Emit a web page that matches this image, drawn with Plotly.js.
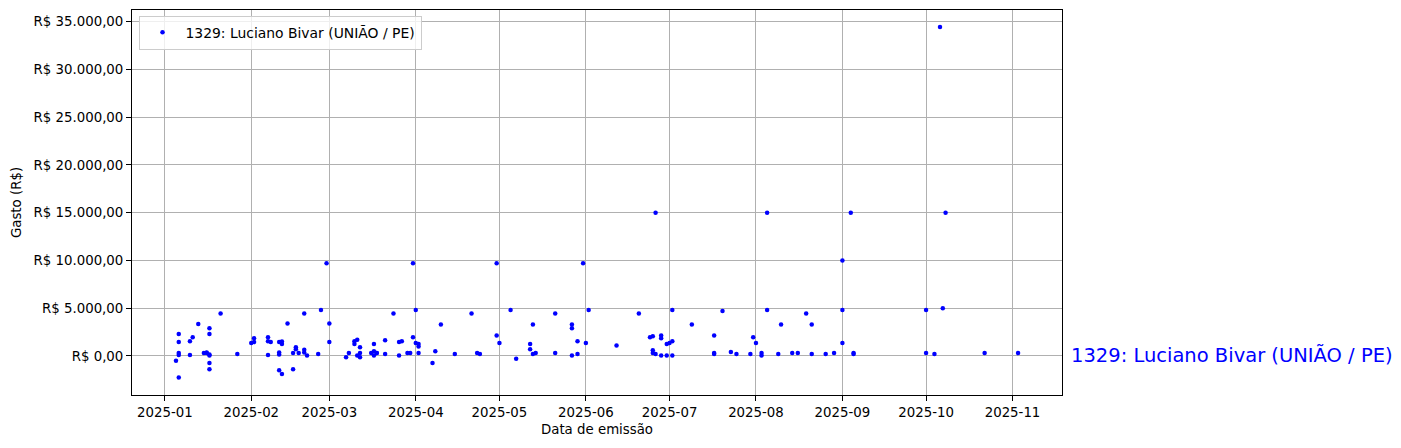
<!DOCTYPE html>
<html>
<head>
<meta charset="utf-8">
<script src="https://cdn.plot.ly/plotly-3.0.1.min.js"></script>
<style>html,body{margin:0;padding:0;background:#fff;}#chart{width:1401px;height:448px;}</style>
</head>
<body>
<div id="chart"></div>
<script>
const seriesName = '1329: Luciano Bivar (UNIÃO / PE)';

const emissionDates = [
  '2025-01-05',
  '2025-01-06','2025-01-06','2025-01-06','2025-01-06','2025-01-06',
  '2025-01-10','2025-01-10','2025-01-11','2025-01-13','2025-01-15',
  '2025-01-16','2025-01-16',
  '2025-01-17','2025-01-17','2025-01-17','2025-01-17','2025-01-17','2025-01-17',
  '2025-01-21','2025-01-27',
  '2025-02-01','2025-02-02','2025-02-02',
  '2025-02-07','2025-02-07','2025-02-07','2025-02-08',
  '2025-02-11','2025-02-11','2025-02-11','2025-02-11',
  '2025-02-12','2025-02-12','2025-02-12',
  '2025-02-14','2025-02-16','2025-02-16','2025-02-17','2025-02-17','2025-02-18',
  '2025-02-20','2025-02-20','2025-02-20','2025-02-21','2025-02-25','2025-02-26','2025-02-28',
  '2025-03-01','2025-03-01','2025-03-07','2025-03-08',
  '2025-03-10','2025-03-10','2025-03-11','2025-03-11',
  '2025-03-12','2025-03-12','2025-03-12','2025-03-16',
  '2025-03-17','2025-03-17','2025-03-17','2025-03-18','2025-03-18',
  '2025-03-21','2025-03-21','2025-03-24','2025-03-26','2025-03-26','2025-03-27',
  '2025-03-29','2025-03-30','2025-03-31','2025-03-31',
  '2025-04-01','2025-04-01','2025-04-02','2025-04-02','2025-04-02',
  '2025-04-07','2025-04-08','2025-04-10','2025-04-15','2025-04-21','2025-04-23','2025-04-24',
  '2025-04-30','2025-04-30',
  '2025-05-01','2025-05-05','2025-05-07','2025-05-12','2025-05-12','2025-05-13','2025-05-13',
  '2025-05-14','2025-05-21','2025-05-21','2025-05-27','2025-05-27','2025-05-27',
  '2025-05-29','2025-05-29','2025-05-31',
  '2025-06-01','2025-06-02','2025-06-12','2025-06-20','2025-06-24',
  '2025-06-25','2025-06-25','2025-06-25','2025-06-26','2025-06-26',
  '2025-06-28','2025-06-28','2025-06-28','2025-06-30','2025-06-30',
  '2025-07-01','2025-07-02','2025-07-02','2025-07-02','2025-07-09',
  '2025-07-17','2025-07-17','2025-07-17','2025-07-20','2025-07-23','2025-07-25',
  '2025-07-30','2025-07-31',
  '2025-08-01','2025-08-03','2025-08-03','2025-08-05','2025-08-05','2025-08-09','2025-08-10',
  '2025-08-14','2025-08-16','2025-08-19','2025-08-21','2025-08-21','2025-08-26','2025-08-29',
  '2025-09-01','2025-09-01','2025-09-01','2025-09-04','2025-09-05','2025-09-05',
  '2025-10-01','2025-10-01','2025-10-04','2025-10-06','2025-10-07','2025-10-08','2025-10-22',
  '2025-11-03'
];

const amounts = [
  -500,
  2300, 1450, 300, 100, -2250,
  1550, 100, 1950, 3350, 300,
  350, 300,
  150, 2900, 2300, 50, -750, -1400,
  4450, 200,
  1350, 1450, 1850,
  1950, 1550, 100, 1450,
  1450, 350, 150, -1500,
  1500, 1250, -1900,
  3400, 300, -1400, 900, 700, 300,
  650, 350, 4450, 50, 200, 4800, 9700,
  3400, 1450, -150, 300,
  1550, 1250, 50, 1700,
  900, -150, 300, 300,
  1250, 500, 50, 300, 300,
  1650, 200, 4450, 50, 1450, 1550,
  300, 300, 9700, 1950,
  4800, 1350, 1250, 1000, 300,
  -750, 500, 3300, 200, 4450, 300, 200,
  9700, 2150,
  1350, 4800, -300, 1250, 700, 200, 3300,
  300, 4450, 300, 3300, 2900, 50,
  1550, 200, 9700,
  1350, 4800, 1100, 4450, 1950,
  600, 2050, 300, 15000, 200,
  2150, 1850, 50, 1250, 50,
  1350, 1550, 50, 4800, 3300,
  300, 200, 2150, 4700, 400, 200,
  200, 1950,
  1350, 300, 50, 4800, 15000, 200, 3300,
  300, 300, 4450, 3300, 200, 200, 300,
  4800, 1350, 10000, 15000, 200, 300,
  300, 4800, 200, 34450, 5000, 15000, 300,
  300
];

const xTickVals = ['2025-01-01','2025-02-01','2025-03-01','2025-04-01','2025-05-01','2025-06-01',
  '2025-07-01','2025-08-01','2025-09-01','2025-10-01','2025-11-01'];
const xTickText = ['2025-01','2025-02','2025-03','2025-04','2025-05','2025-06',
  '2025-07','2025-08','2025-09','2025-10','2025-11'];
const yTickVals = [0, 5000, 10000, 15000, 20000, 25000, 30000, 35000];
const yTickText = ['R$ 0,00','R$ 5.000,00','R$ 10.000,00','R$ 15.000,00','R$ 20.000,00',
  'R$ 25.000,00','R$ 30.000,00','R$ 35.000,00'];

const FONT = 'DejaVu Sans, Liberation Sans, sans-serif';

const trace = {
  type: 'scatter',
  mode: 'markers',
  name: seriesName,
  x: emissionDates,
  y: amounts,
  marker: {color: '#0000ff', size: 4.5, line: {width: 0}},
  hoverinfo: 'x+y'
};

const axisCommon = {
  showline: true, linecolor: '#000', linewidth: 1, mirror: true,
  ticks: 'outside', ticklen: 5, tickwidth: 1, tickcolor: '#000',
  showgrid: true, gridcolor: '#b0b0b0', gridwidth: 1,
  zeroline: false,
  tickfont: {family: FONT, size: 13.33, color: '#000'}
};

const layout = {
  width: 1401, height: 448,
  margin: {l: 132, r: 339, t: 10, b: 53, pad: 0},
  paper_bgcolor: '#fff', plot_bgcolor: '#fff',
  font: {family: FONT, size: 13.33, color: '#000'},
  showlegend: true,
  legend: {
    x: 0.007, y: 0.985, xanchor: 'left', yanchor: 'top',
    itemwidth: 36, tracegroupgap: 0,
    bgcolor: 'rgba(255,255,255,0.8)', bordercolor: '#cccccc', borderwidth: 1,
    font: {family: FONT, size: 13.9, color: '#000'}
  },
  xaxis: Object.assign({}, axisCommon, {
    type: 'date',
    range: ['2024-12-20 05:30', '2025-11-18 18:00'],
    tickmode: 'array', tickvals: xTickVals, ticktext: xTickText,
    title: {text: 'Data de emissão', font: {family: FONT, size: 13.33, color: '#000'}, standoff: 5}
  }),
  yaxis: Object.assign({}, axisCommon, {
    range: [-4090, 36220],
    tickmode: 'array', tickvals: yTickVals, ticktext: yTickText,
    title: {text: 'Gasto (R$)', font: {family: FONT, size: 13.33, color: '#000'}, standoff: 8}
  }),
  annotations: [{
    text: seriesName,
    xref: 'paper', yref: 'y',
    x: 1.0075, y: 0,
    xanchor: 'left', yanchor: 'middle',
    showarrow: false,
    font: {family: FONT, size: 19.5, color: '#0000ff'}
  }]
};

Plotly.newPlot('chart', [trace], layout, {displayModeBar: false, staticPlot: true});
</script>
</body>
</html>
